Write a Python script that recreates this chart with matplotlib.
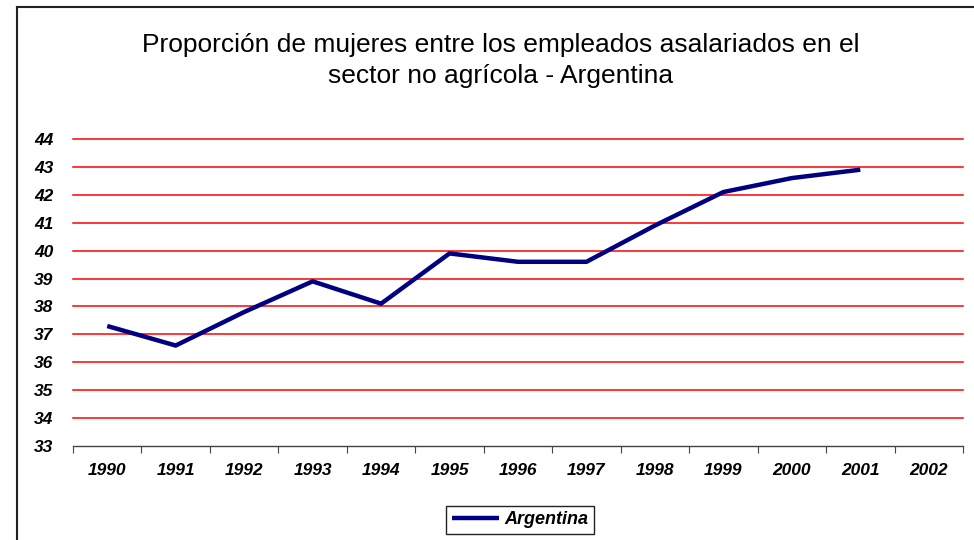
import matplotlib
matplotlib.use("Agg")
import matplotlib.pyplot as plt
from matplotlib.lines import Line2D

plt.rcParams['font.family'] = ['Liberation Sans', 'DejaVu Sans']

years = ['1990', '1991', '1992', '1993', '1994', '1995', '1996',
         '1997', '1998', '1999', '2000', '2001', '2002']
argentina = [37.3, 36.6, 37.8, 38.9, 38.1, 39.9, 39.6, 39.6, 40.9, 42.1, 42.6, 42.9]
yticks = list(range(33, 45))

fig = plt.figure(figsize=(9.74, 5.4), dpi=100)
ax = fig.add_axes([73 / 974, 1 - 446 / 540, 890 / 974, 307 / 540])

xpos = [i + 0.5 for i in range(len(argentina))]
ax.plot(xpos, argentina, color='#000080', lw=3.2, label='Argentina',
        solid_joinstyle='miter', solid_capstyle='butt', zorder=3)

ax.set_xlim(0, len(years))
ax.set_ylim(33, 44)
ax.set_yticks(yticks)
ax.set_yticklabels([str(v) for v in yticks], fontsize=12.5, fontweight='bold', style='italic')
ax.tick_params(axis='y', length=0, pad=14)

# category ticks between labels, labels centered
ax.set_xticks(range(len(years) + 1))
ax.set_xticklabels([])
ax.set_xticks([i + 0.5 for i in range(len(years))], minor=True)
ax.set_xticklabels(years, minor=True, fontsize=12.5, fontweight='bold', style='italic')
ax.tick_params(axis='x', which='major', length=5, direction='out', color='#444444')
ax.tick_params(axis='x', which='minor', length=0, pad=12)

for v in yticks[1:]:
    ax.axhline(v, color='#ff0000', lw=1.1, zorder=1, clip_on=False)

for s in ['top', 'right', 'left']:
    ax.spines[s].set_visible(False)
ax.spines['bottom'].set_color('#444444')
ax.spines['bottom'].set_linewidth(1.0)

fig.text(0.514, 1 - 45 / 540, 'Proporción de mujeres entre los empleados asalariados en el',
         ha='center', va='center', fontsize=19)
fig.text(0.514, 1 - 76 / 540, 'sector no agrícola - Argentina',
         ha='center', va='center', fontsize=19)

# outer frame (left and top edges visible)
fig.add_artist(Line2D([16.5 / 974, 16.5 / 974], [0, 1 - 7 / 540], color='#222222', lw=1.5,
                      transform=fig.transFigure))
fig.add_artist(Line2D([16.5 / 974, 1], [1 - 7 / 540, 1 - 7 / 540], color='#222222', lw=1.5,
                      transform=fig.transFigure))

leg = fig.legend(loc='center', bbox_to_anchor=(520 / 974, 1 - 520 / 540),
                 fancybox=False, edgecolor='#222222', framealpha=1,
                 prop={'size': 13, 'weight': 'bold', 'style': 'italic'},
                 handlelength=2.6, borderpad=0.3, handletextpad=0.3)
leg.get_frame().set_linewidth(1.0)

fig.savefig('out.png', dpi=100)
